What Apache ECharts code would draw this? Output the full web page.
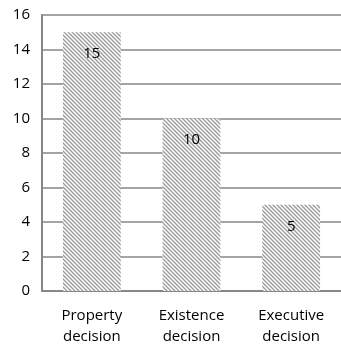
<!DOCTYPE html>
<html>
<head>
<meta charset="utf-8">
<script src="https://cdn.jsdelivr.net/npm/echarts@6/dist/echarts.min.js"></script>
<style>
  html, body { margin: 0; padding: 0; background: #fff; }
  #chart { width: 341px; height: 349px; }
</style>
</head>
<body>
<div id="chart"></div>
<script>
var categories = ['Property\ndecision', 'Existence\ndecision', 'Executive\ndecision'];
var values = [15, 10, 5];
var yTicks = [0, 2, 4, 6, 8, 10, 12, 14, 16];

// diagonal hatch, top-left to bottom-right
function makeHatch() {
    var c = document.createElement('canvas');
    c.width = 8;
    c.height = 8;
    var ctx = c.getContext('2d');
    ctx.fillStyle = '#ffffff';
    ctx.fillRect(0, 0, 8, 8);
    ctx.strokeStyle = '#9a9a9a';
    ctx.lineWidth = 1.3;
    for (var k = -8; k <= 8; k += 4) {
        ctx.beginPath();
        ctx.moveTo(k - 1, -1);
        ctx.lineTo(k + 9, 9);
        ctx.stroke();
    }
    return c;
}

var chart = echarts.init(document.getElementById('chart'));
var font = 'Open Sans, Noto Sans, sans-serif';

chart.setOption({
    animation: false,
    grid: { left: 42, right: 0, top: 15, bottom: 58 },
    xAxis: {
        type: 'category',
        data: categories,
        axisLine: { lineStyle: { color: '#868686', width: 2 } },
        axisTick: { show: false },
        axisLabel: {
            color: '#000', fontFamily: font, fontSize: 15,
            lineHeight: 21, margin: 14
        }
    },
    yAxis: {
        type: 'value',
        min: yTicks[0],
        max: yTicks[yTicks.length - 1],
        interval: 2,
        axisLine: { show: true, lineStyle: { color: '#868686', width: 2 } },
        axisTick: { show: false },
        splitLine: { lineStyle: { color: '#868686', width: 1.5 } },
        axisLabel: { color: '#000', fontFamily: font, fontSize: 15, margin: 12 }
    },
    series: [{
        type: 'bar',
        data: values,
        barWidth: '58%',
        itemStyle: { color: { image: makeHatch(), repeat: 'repeat' } },
        label: {
            show: true,
            position: 'insideTop',
            distance: 14,
            color: '#000',
            fontFamily: font,
            fontSize: 15
        }
    }]
});
</script>
</body>
</html>
